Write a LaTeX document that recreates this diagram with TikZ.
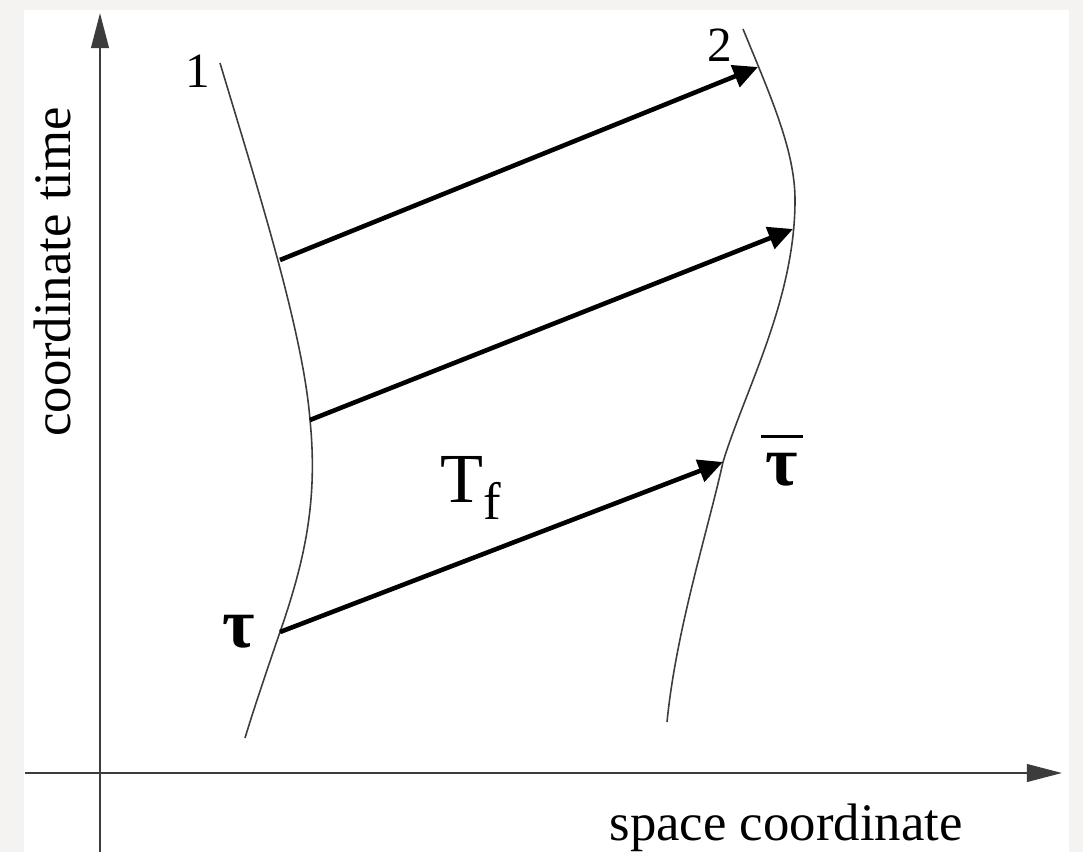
\documentclass[tikz,border=0pt]{standalone}
\usepackage{fontspec}
\setmainfont{Liberation Serif}
\usetikzlibrary{arrows.meta,positioning}
\definecolor{pagegray}{HTML}{F4F3F1}
\definecolor{linegray}{HTML}{3C3C3C}
\newcommand{\taubar}{\vbox{\hrule width 12pt height 0.8pt \kern 4.2pt \hbox to 12pt{\hss\bfseries τ\hss}}}

\begin{document}
\begin{tikzpicture}[x=0.01cm,y=-0.01cm,
  axis/.style={linegray,line width=0.7pt,-{Triangle[length=10pt,width=5pt]}},
  worldline/.style={linegray,line width=0.45pt},
  signal/.style={black,line width=1.3pt,-{Triangle[length=7pt,width=6.5pt]}},
  lbl/.style={inner sep=0pt,font=\fontsize{15}{18}\selectfont}]
\useasboundingbox (0,0) rectangle (1083,852);
\fill[pagegray] (0,0) rectangle (1083,852);
\fill[white] (24,10) rectangle (1069,852);
% axes
\coordinate (o1) at (100,852);
\coordinate (o2) at (100,13);
\coordinate (s1) at (25,773);
\coordinate (s2) at (1062,773);
\draw[axis] (o1) -- (o2);
\draw[axis] (s1) -- (s2);
\node[lbl,rotate=90,anchor=base] (tlabel) at (70,272) {coordinate time};
\node[lbl,anchor=base] (xlabel) at (786,840) {space coordinate};
% points on the lines
\coordinate (a1) at (280,260);
\coordinate (b1) at (758,67);
\coordinate (a2) at (310,420);
\coordinate (b2) at (793,229);
\coordinate (a3) at (280,632);
\coordinate (b3) at (723,462);
% the two world lines
\draw[worldline] (220,63) .. controls (255,180) and (303,330) .. (a2)
  .. controls (318,500) and (305,560) .. (a3)
  .. controls (268,667) and (255,705) .. (245,738);
\draw[worldline] (743,29) .. controls (770,95) and (795,150) .. (795,200)
  .. controls (795,300) and (745,390) .. (b3)
  .. controls (708,530) and (676,630) .. (667,722);
\node[lbl,anchor=base,font=\fontsize{14}{16}\selectfont] (one) at (198,88) {1};
\node[lbl,anchor=base,font=\fontsize{14}{16}\selectfont] (two) at (720,62) {2};
\draw[signal] (a1) -- (b1);
\draw[signal] (a2) -- (b2);
\draw[signal] (a3) -- (b3);
\node[lbl,font=\fontsize{20}{22}\selectfont\bfseries,left=0.24cm of a3] (tau) {τ};
\node[lbl,anchor=base,font=\fontsize{20}{22}\selectfont] (tbar) at (782,485) {\taubar};
\node[lbl,anchor=base west,font=\fontsize{20}{22}\selectfont] (tf) at (440,502) {T\raisebox{-5pt}{\fontsize{15}{15}\selectfont f}};
\end{tikzpicture}
\end{document}
